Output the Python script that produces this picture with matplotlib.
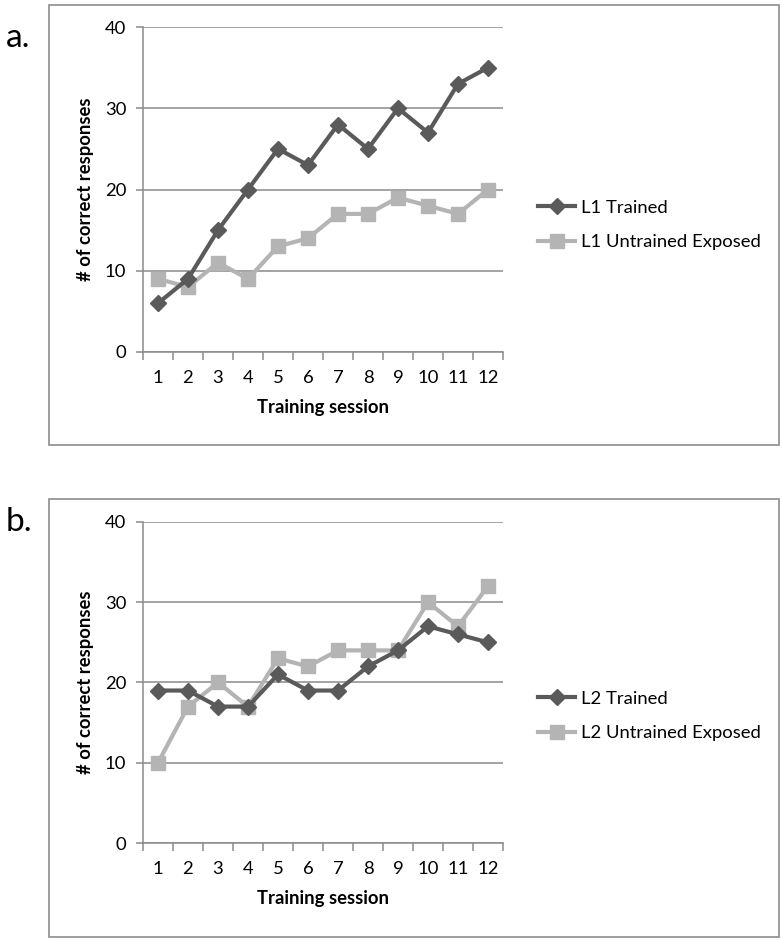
import matplotlib
matplotlib.use("Agg")
import matplotlib.pyplot as plt
from matplotlib.patches import Rectangle

plt.rcParams['font.family'] = ['Lato', 'DejaVu Sans']

sessions = list(range(1, 13))
session_labels = [str(s) for s in sessions]
l1_trained = [6, 9, 15, 20, 25, 23, 28, 25, 30, 27, 33, 35]
l1_untrained = [9, 8, 11, 9, 13, 14, 17, 17, 19, 18, 17, 20]
l2_trained = [19, 19, 17, 17, 21, 19, 19, 22, 24, 27, 26, 25]
l2_untrained = [10, 17, 20, 17, 23, 22, 24, 24, 24, 30, 27, 32]
y_ticks = [0, 10, 20, 30, 40]

DARK = '#5a5a5a'
LIGHT = '#b4b4b4'
GRID = '#8a8a8a'
FS = 13.3

W, H = 783, 940
fig = plt.figure(figsize=(W / 100, H / 100), dpi=100)

def fx(px):
    return px / W

def fy(py):
    return 1 - py / H

def panel(top_px, zero_px, frame_top, frame_bot, letter, letter_y, trained, untrained, names, leg_y):
    fig.patches.append(Rectangle((fx(49), fy(frame_bot)), fx(779) - fx(49), fy(frame_top) - fy(frame_bot),
                                 transform=fig.transFigure, fill=False, edgecolor='#8c8c8c', lw=1.2))
    fig.text(fx(6), fy(letter_y), letter, fontsize=24, va='center', ha='left')
    ax = fig.add_axes([fx(143), fy(zero_px), fx(503) - fx(143), fy(top_px) - fy(zero_px)])
    ax.set_xlim(0.5, 12.5)
    ax.set_ylim(0, 40)
    ax.set_yticks(y_ticks)
    ax.set_yticklabels([str(v) for v in y_ticks])
    ax.yaxis.grid(True, color=GRID, lw=1.1)
    ax.set_axisbelow(True)
    for s in ['top', 'right']:
        ax.spines[s].set_visible(False)
    ax.spines['left'].set_color(GRID)
    ax.spines['bottom'].set_color(GRID)
    ax.spines['left'].set_linewidth(1.1)
    ax.spines['bottom'].set_linewidth(1.1)
    ax.set_xticks([s + 0.5 for s in [0] + sessions])
    ax.set_xticklabels([])
    ax.set_xticks(sessions, minor=True)
    ax.set_xticklabels(session_labels, minor=True)
    ax.tick_params(axis='x', which='major', length=6, color=GRID, width=1.1, direction='out')
    ax.tick_params(axis='x', which='minor', length=0, labelsize=FS, pad=13)
    ax.tick_params(axis='y', length=5, color=GRID, width=1.1, labelsize=FS, pad=7)
    l1, = ax.plot(sessions, trained, color=DARK, lw=3, marker='D', ms=8.5, label=names[0], clip_on=False, zorder=4)
    l2, = ax.plot(sessions, untrained, color=LIGHT, lw=3, marker='s', ms=10.5, label=names[1], clip_on=False, zorder=3)
    ax.set_xlabel('Training session', fontsize=FS, fontweight='bold', labelpad=9)
    ax.set_ylabel('# of correct responses', fontsize=FS, fontweight='bold', labelpad=8)
    fig.legend(handles=[l1, l2], loc='center left', bbox_to_anchor=(fx(531), fy(leg_y)),
               frameon=False, fontsize=FS, handlelength=2.0, handletextpad=0.3, labelspacing=1.0,
               borderaxespad=0)
    return ax

panel(27, 352, 5, 445, 'a.', 38, l1_trained, l1_untrained, ['L1 Trained', 'L1 Untrained Exposed'], 225)
panel(522, 843, 499, 937, 'b.', 522, l2_trained, l2_untrained, ['L2 Trained', 'L2 Untrained Exposed'], 716)

fig.savefig('out.png', dpi=100, facecolor='white')
